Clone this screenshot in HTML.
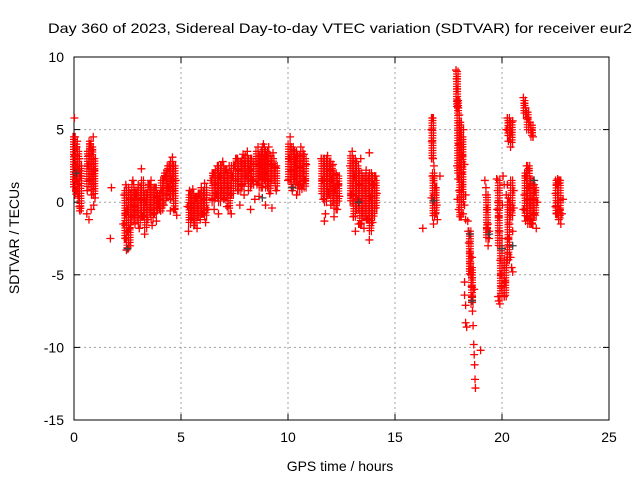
<!DOCTYPE html>
<html><head><meta charset="utf-8"><style>
body{margin:0;background:#fff}
svg{display:block;font-family:"Liberation Sans",sans-serif}
</style></head><body>
<svg id="chart" width="640" height="480" viewBox="0 0 640 480" xmlns="http://www.w3.org/2000/svg">
<rect width="640" height="480" fill="#fff"/>
<text x="340" y="33" text-anchor="middle" font-size="14" textLength="584" lengthAdjust="spacingAndGlyphs">Day 360 of 2023, Sidereal Day-to-day VTEC variation (SDTVAR) for receiver eur2</text>
<g id="grid"></g>
<g id="axes"></g>
<g id="marks"></g>
<text transform="translate(19,238) rotate(-90)" text-anchor="middle" font-size="14">SDTVAR / TECUs</text>
<text x="340" y="471" text-anchor="middle" font-size="14">GPS time / hours</text>
</svg>
<script>
const xTicks=[0,5,10,15,20,25];
const yTicks=[10,5,0,-5,-10,-15];
const redPoints=[[0.02,5.8],[0.05,4.5],[0.05,3.2],[0.08,2.5],[0.1,1.5],[0.12,3.8],[0.15,2.8],[0.18,1.2],[0.2,0.4],[0.22,2.2],[0.25,3.0],[0.28,-0.6],[0.3,1.8],[0.1,0.8],[0.15,4.2],[0.25,-0.3],
[0.6,-0.8],[0.62,0.8],[0.65,2.5],[0.7,3.2],[0.72,1.5],[0.75,4.0],[0.8,2.8],[0.82,0.5],[0.85,3.6],[0.88,1.8],[0.9,4.5],[0.92,-0.2],[0.95,2.2],[0.98,0.3],[0.7,-1.2],[0.8,-0.5],
[1.7,-2.5],[1.75,1.0],
[2.3,-1.5],[2.35,0.5],[2.4,-2.5],[2.42,1.2],[2.45,-3.3],[2.5,-0.5],[2.55,0.8],[2.6,-1.8],[2.62,-3.0],[2.65,0.2],[2.7,-1.0],[2.75,1.5],[2.8,-0.3],[2.5,-2.0],[2.4,-0.8],
[2.85,-1.5],[2.9,0.5],[2.95,-0.6],[3.0,1.2],[3.05,-1.8],[3.1,0.2],[3.15,2.3],[3.2,-1.0],[3.25,0.8],[3.3,-2.2],[3.35,0.0],
[3.4,0.5],[3.45,-1.2],[3.5,1.2],[3.55,-0.5],[3.6,1.5],[3.65,-1.6],[3.7,0.3],[3.75,-0.8],[3.8,1.0],[3.85,-1.3],[3.9,0.4],[3.95,-0.2],
[4.0,0.2],[4.05,-0.6],[4.1,0.8],[4.15,1.5],[4.2,-0.2],[4.25,1.8],[4.3,0.5],[4.35,2.2],[4.4,1.0],[4.45,2.5],[4.5,0.2],[4.55,1.6],[4.6,2.8],[4.65,0.8],[4.7,-0.5],[4.75,1.5],[4.8,-0.9],[4.5,-0.6],[4.6,3.1],
[5.3,-0.3],[5.35,-2.0],[5.4,0.8],[5.45,-1.2],[5.5,-0.2],[5.55,0.9],[5.6,-1.6],[5.65,-0.6],[5.7,0.3],[5.75,-1.8],[5.8,-0.4],[5.85,0.6],[5.9,-1.2],[5.95,1.0],[6.0,-0.8],[6.05,0.2],[6.1,1.3],[6.15,-1.4],[6.2,0.5],[6.25,-0.5],
[6.4,1.5],[6.45,0.2],[6.5,2.0],[6.55,-0.5],[6.6,1.2],[6.65,0.6],[6.7,2.5],[6.75,-0.8],[6.8,1.8],[6.9,0.8],[6.95,2.8],[7.0,0.2],[7.05,1.5],[7.1,2.2],[7.15,-0.3],[7.2,1.0],[7.25,2.5],[7.3,0.5],[7.35,-0.8],[7.4,1.8],
[7.5,2.5],[7.55,1.5],[7.6,3.0],[7.65,0.8],[7.7,2.2],[7.75,-0.2],[7.8,2.8],[7.85,1.2],[7.9,3.3],[7.95,0.5],[8.0,2.5],[8.05,1.8],[8.1,3.5],[8.15,0.8],[8.2,2.2],[8.25,-0.5],[8.3,3.0],[8.35,1.5],[8.4,2.6],[8.45,0.2],
[8.5,2.8],[8.55,1.2],[8.6,3.8],[8.65,0.4],[8.7,2.5],[8.75,3.5],[8.8,1.0],[8.85,4.0],[8.9,2.0],[8.95,-0.2],[9.0,3.2],[9.05,1.5],[9.1,3.8],[9.15,0.6],[9.2,2.6],[9.25,-0.4],[9.3,3.4],[9.35,1.8],[9.4,2.4],[9.45,0.8],
[10.0,1.5],[10.05,3.0],[10.1,4.5],[10.15,2.2],[10.2,0.8],[10.25,3.6],[10.3,1.8],[10.35,2.8],[10.4,0.5],[10.45,3.2],[10.5,1.2],[10.55,2.4],[10.6,3.8],[10.65,0.9],[10.7,2.0],[10.75,3.3],[10.8,1.5],[10.85,2.6],
[11.55,3.0],[11.6,1.5],[11.65,0.2],[11.7,2.5],[11.75,-0.8],[11.8,1.8],[11.85,3.2],[11.9,0.6],[11.95,2.2],[12.0,-0.2],[12.05,1.5],[12.1,2.6],[12.15,-1.0],[12.2,0.8],[12.25,1.9],[12.3,-0.5],[12.35,1.2],[12.4,0.4],[11.7,-1.3],[12.0,2.8],
[12.9,2.5],[12.95,0.5],[13.0,3.5],[13.05,-1.0],[13.1,1.8],[13.15,-2.0],[13.2,2.8],[13.25,0.2],[13.3,-1.5],[13.35,1.2],[13.4,3.0],[13.45,-0.6],[13.5,1.5],[13.55,-1.8],[13.6,0.8],[13.65,2.2],[13.7,-1.2],[13.75,1.6],[13.8,-2.6],[13.85,0.4],[13.9,2.0],[13.95,-1.4],[14.0,1.2],[14.05,-0.4],[14.1,1.8],[14.15,0.6],[13.4,-1.5],[13.8,3.4],
[16.3,-1.8],
[16.7,5.0],[16.72,4.2],[16.75,5.8],[16.78,3.0],[16.8,1.5],[16.82,2.5],[16.85,0.5],[16.88,-0.8],[16.9,1.0],[16.95,-0.2],[16.98,-1.2],[16.7,0.3],[16.75,1.8],[16.8,-1.5],[17.1,1.8],
[17.85,9.1],[17.88,8.5],[17.9,7.8],[17.92,7.0],[17.95,6.5],[18.0,6.0],[18.02,5.5],[18.05,4.8],[18.1,4.3],[18.12,3.8],[18.15,3.2],[18.0,4.0],[17.9,2.5],[17.95,1.6],[18.0,0.8],[17.92,0.2],[17.98,-0.5],[18.05,-1.0],[18.1,2.0],[18.15,1.2],[18.2,5.0],[18.25,-0.2],[18.25,2.6],[18.3,-1.2],[18.3,0.5],[18.18,-0.8],
[18.4,-1.3],[18.42,-2.0],[18.45,-2.8],[18.5,-3.5],[18.52,-4.2],[18.55,-5.0],[18.58,-5.8],[18.6,-6.5],[18.62,-7.5],[18.65,-8.5],[18.68,-9.8],[18.7,-10.5],[18.72,-11.2],[18.74,-12.2],[18.76,-12.8],[18.5,-4.6],[18.6,-5.2],[18.25,-5.5],[18.25,-6.4],[18.3,-8.3],[18.35,-8.6],[18.3,-7.1],[19.0,-10.2],[18.6,-3.8],[18.7,-6.0],
[19.2,1.5],[19.25,0.5],[19.3,-0.5],[19.35,-1.5],[19.4,-2.5],[19.4,-2.0],[19.3,-1.8],[19.35,-3.0],[19.25,1.0],
[19.75,1.6],[19.8,0.8],[19.82,0.0],[19.85,-1.0],[19.88,-2.0],[19.9,-3.0],[19.92,-4.0],[19.95,-5.0],[19.98,-5.8],[19.78,-0.5],[19.82,-6.5],[19.85,-6.8],[20.0,-2.5],[20.05,1.8],[20.1,1.2],[20.02,-0.2],[19.9,-7.0],
[20.1,-6.5],[20.15,-5.5],[20.2,-4.5],[20.25,-3.5],[20.3,-2.5],[20.35,-1.5],[20.4,-0.5],[20.45,-4.5],[20.5,-4.8],[20.4,-3.8],[20.35,-3.0],[20.25,1.2],[20.3,0.3],[20.2,5.0],[20.25,5.8],[20.3,4.2],[20.35,5.5],[20.4,3.8],[20.45,4.8],[20.5,5.6],[20.55,0.8],[20.55,-0.4],[20.5,-2.0],[20.2,0.5],
[21.0,7.2],[21.05,6.8],[21.1,6.5],[21.15,6.2],[21.2,5.8],[21.3,5.5],[21.35,5.0],[21.4,4.8],[21.45,4.5],[21.0,-0.5],[21.05,0.5],[21.1,1.8],[21.15,2.5],[21.2,-1.0],[21.25,1.0],[21.3,-0.2],[21.35,1.5],[21.4,-1.5],[21.45,0.2],[21.5,-0.8],[21.55,0.8],[21.6,-1.8],[21.65,0.0],[21.2,0.2],[21.35,-1.2],[21.25,2.2],[21.5,1.2],[21.1,-1.3],
[22.5,0.6],[22.55,1.2],[22.6,1.6],[22.65,1.3],[22.7,1.5],[22.5,-0.3],[22.55,-0.8],[22.6,0.0],[22.65,-1.2],[22.7,-0.5],[22.75,-1.5],[22.8,-0.8],[22.85,0.2]];
const grayPoints=[[0.1,2.0],[2.5,-3.2],[8.8,0.3],[10.2,1.0],[13.3,0.0],[16.8,0.1],[18.5,-2.2],[18.6,-6.8],[19.4,-2.2],[20.0,-3.2],[20.5,-3.0],[21.5,1.5]];
/* dense runs of overlapping markers: time, lowest value, highest value */
const runTimes=[0.0,0.1,0.2,0.3,0.65,0.75,0.85,0.95,2.4,2.5,2.6,2.75,2.9,3.05,3.2,3.35,3.5,3.65,3.8,3.95,4.1,4.25,4.4,4.55,4.7,5.4,5.55,5.7,5.85,6.0,6.15,6.5,6.65,6.8,6.95,7.1,7.25,7.4,7.6,7.75,7.9,8.05,8.2,8.35,8.55,8.7,8.85,9.0,9.15,9.3,9.45,10.05,10.2,10.35,10.5,10.65,10.8,11.6,11.75,11.9,12.05,12.2,12.35,12.95,13.1,13.25,13.4,13.55,13.7,13.85,14.0,14.1,16.75,16.8,16.9,17.9,17.95,18.05,18.15,18.5,18.6,19.3,19.85,19.95,20.15,20.3,20.45,20.3,20.45,21.05,21.2,21.4,21.1,21.25,21.4,21.55,22.55,22.7];
const runLow=[1.0,0.5,1.5,-0.5,1.0,1.5,0.8,0.5,-2.5,-3.2,-2.8,-1.2,-1.2,-1.5,-1.0,-1.8,-0.8,-1.2,-0.8,-0.5,-0.5,0.0,0.5,0.5,-0.5,-1.5,-1.2,-1.5,-1.0,-0.8,-1.0,0.0,0.3,0.0,0.5,0.3,-0.5,0.5,1.0,0.8,1.0,1.5,1.0,1.2,1.5,1.0,1.5,1.0,0.8,1.5,1.0,1.5,1.0,1.5,0.8,1.2,1.0,0.5,0.0,0.5,0.0,-0.5,0.0,0.0,-1.0,-0.5,-1.5,-1.0,-1.2,-2.0,-1.0,-0.5,3.0,-1.0,-0.8,6.5,2.0,-1.0,0.0,-5.0,-7.0,-2.5,-3.0,-6.5,-6.5,-4.0,-1.0,4.5,4.0,6.0,5.0,4.5,-1.0,-1.5,-1.5,-1.0,-0.8,-1.2];
const runHigh=[4.5,4.0,3.5,2.5,3.5,4.2,3.8,3.0,0.8,1.0,0.5,1.2,0.8,1.0,1.5,0.5,1.2,1.0,1.0,0.6,1.5,2.0,2.5,2.8,2.5,0.5,0.6,0.3,0.6,0.8,1.0,2.0,2.2,2.5,2.5,2.2,2.0,2.5,3.0,2.8,3.0,3.2,3.0,2.8,3.5,3.2,3.8,3.5,3.2,3.0,2.5,4.0,3.8,3.5,3.2,3.5,3.0,3.0,3.0,2.8,2.5,2.0,1.8,3.2,3.0,2.5,2.0,1.8,1.8,2.0,1.8,1.5,5.8,2.0,1.0,9.0,7.0,5.5,4.5,-2.0,-4.5,0.5,1.5,-3.0,-4.0,0.0,1.5,5.8,5.5,7.0,6.2,5.3,2.0,2.5,1.5,1.0,1.5,1.5];

const X0=74,X1=609,Y0=57,Y1=420;
const sx=t=>X0+(t-0)/(25-0)*(X1-X0);
const sy=v=>Y1-(v+15)/(10+15)*(Y1-Y0);
const NS='http://www.w3.org/2000/svg';
function mk(tag,attrs,parent){const e=document.createElementNS(NS,tag);for(const k in attrs)e.setAttribute(k,attrs[k]);parent.appendChild(e);return e;}
const grid=document.getElementById('grid'),axes=document.getElementById('axes'),marks=document.getElementById('marks');
xTicks.forEach(t=>{
  const x=sx(t);
  if(t>0&&t<25){const g=mk('line',{x1:x,x2:x,y1:Y0,y2:Y1,stroke:'#a0a0a0','stroke-dasharray':'2,3'},grid);
  
  }
  mk('line',{x1:x,x2:x,y1:Y1,y2:Y1-6,stroke:'#000'},axes);
  mk('line',{x1:x,x2:x,y1:Y0,y2:Y0+6,stroke:'#000'},axes);
  const l=mk('text',{x:x,y:Y1+22,'text-anchor':'middle','font-size':'14'},axes);
  
  
  l.textContent=t;
});
yTicks.forEach(v=>{
  const y=sy(v);
  if(v>-15&&v<10){const g=mk('line',{x1:X0,x2:X1,y1:y,y2:y,stroke:'#a0a0a0','stroke-dasharray':'2,3'},grid);
  
  }
  mk('line',{x1:X0,x2:X0+6,y1:y,y2:y,stroke:'#000'},axes);
  mk('line',{x1:X1,x2:X1-6,y1:y,y2:y,stroke:'#000'},axes);
  const l=mk('text',{x:X0-10,y:y+5,'text-anchor':'end','font-size':'14'},axes);
  
  
  l.textContent=v;
});
mk('rect',{x:X0,y:Y0,width:X1-X0,height:Y1-Y0,fill:'none',stroke:'#000'},axes);
runTimes.forEach((t,i)=>{
  const x=sx(t),yTop=sy(runHigh[i]),yBot=sy(runLow[i]);
  let d=`M${x-1},${yTop-4}V${yBot+4}M${x+1},${yTop-4}V${yBot+4}`;
  for(let y=yTop;y<=yBot+0.1;y+=2.5){d+=`M${x-4},${y}H${x+4}`;}
  const e=mk('path',{d:d,stroke:'#ff0000','stroke-width':'1.2',fill:'none'},marks);
  
  
});
function plus(p,color){
  const x=sx(p[0]),y=sy(p[1]);
  const e=mk('path',{d:`M${x-4},${y}H${x+4}M${x},${y-4}V${y+4}`,stroke:color,'stroke-width':'1.3',fill:'none'},marks);
  
  
}
redPoints.forEach(p=>plus(p,'#ff0000'));
grayPoints.forEach(p=>plus(p,'#404040'));
</script>
</body></html>
